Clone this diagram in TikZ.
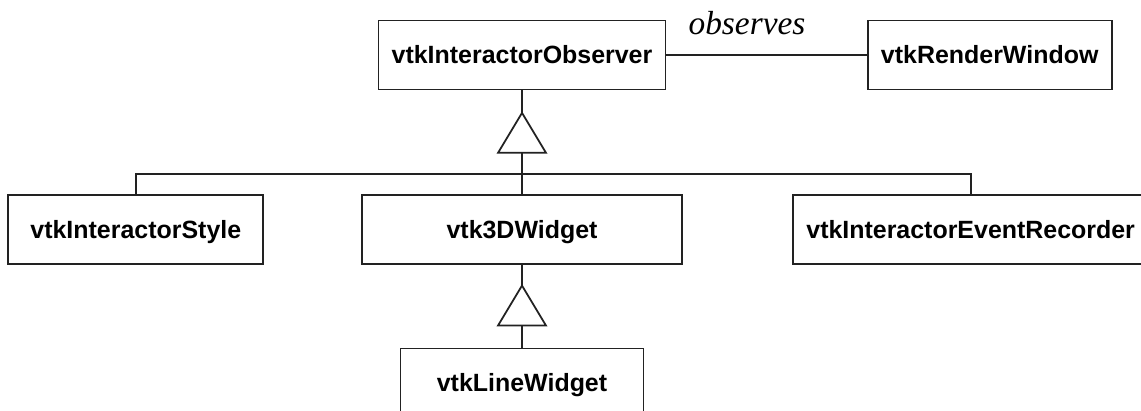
\documentclass[tikz,border=0pt]{standalone}
\usepackage{fontspec}
\setmainfont{Liberation Serif}
\setsansfont{Liberation Sans}
\usepackage{tikz}
\usetikzlibrary{positioning}
\definecolor{umlline}{HTML}{222222}

\begin{document}
\begin{tikzpicture}[x=0.02cm,y=-0.02cm,
  cls/.style={draw=umlline,line width=1pt,minimum height=1.38cm,inner sep=0pt,
    font=\sffamily\bfseries\fontsize{14.2}{17}\selectfont,text height=0.36cm,text depth=0cm},
  lbl/.style={font=\itshape\fontsize{19}{22}\selectfont,inner sep=0pt},
  ln/.style={draw=umlline,line width=1pt},
  inh/.style={draw=umlline,line width=1pt,fill=white,line join=miter}]
  \useasboundingbox (0,0) rectangle (1141,411);
  \node[cls,minimum width=5.74cm] (obs) at (522,55) {vtkInteractorObserver};
  \node[cls,minimum width=4.88cm,right=4.01cm of obs] (rw) {vtkRenderWindow};
  \node[cls,minimum width=6.4cm,below=2.07cm of obs] (w3d) {vtk3DWidget};
  \node[cls,minimum width=5.1cm,left=1.94cm of w3d] (is) {vtkInteractorStyle};
  \node[cls,minimum width=7.12cm,right=2.18cm of w3d] (ier) {vtkInteractorEventRecorder};
  \node[cls,minimum width=4.86cm,below=1.66cm of w3d] (lw) {vtkLineWidget};
  \node[lbl,anchor=base] (obsl) at (747,35) {observes};
  \coordinate[below=0.45cm of obs] (t1);
  \coordinate[below=0.8cm of t1] (t1b);
  \coordinate[below=0.42cm of t1b] (bus);
  \coordinate[below=0.42cm of w3d] (t2);
  \coordinate[below=0.8cm of t2] (t2b);
  \draw[ln] (obs) -- (rw);
  \draw[ln] (obs) -- (t1); \draw[ln] (t1b) -- (w3d);
  \draw[ln] (is.north) |- (bus) -| (ier.north);
  \draw[inh] (t1) -- ++(0.48cm,-0.8cm) -- ++(-0.96cm,0) -- cycle;
  \draw[ln] (w3d) -- (t2); \draw[ln] (t2b) -- (lw);
  \draw[inh] (t2) -- ++(0.48cm,-0.8cm) -- ++(-0.96cm,0) -- cycle;
\end{tikzpicture}
\end{document}
